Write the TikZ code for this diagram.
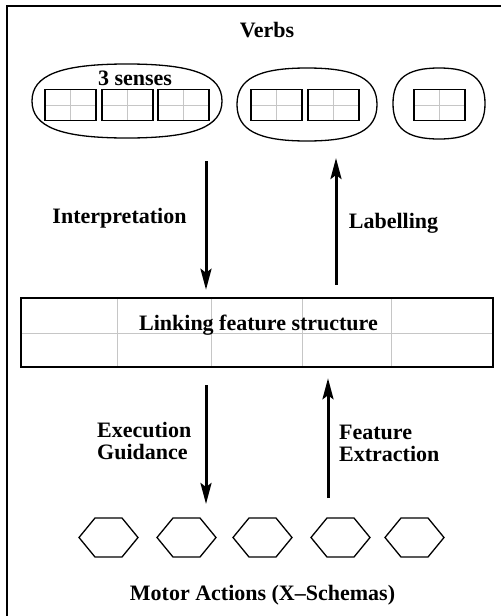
\documentclass[tikz,border=0pt]{standalone}
\usepackage{fontspec}
\setmainfont{Liberation Serif}
\usetikzlibrary{shapes.geometric,arrows.meta}
\begin{document}
\begin{tikzpicture}[x=1pt,y=-1pt,
  lbl/.style={font=\fontsize{22}{22}\selectfont\bfseries, inner sep=0pt},
  ovalbox/.style={inner sep=0pt},
  ovalline/.style={line width=1.3pt},
  sense/.style={draw, line width=1.5pt, minimum width=51pt, minimum height=31pt, inner sep=0pt,
    path picture={\draw[gray!45, line width=1pt]
      (path picture bounding box.north) -- (path picture bounding box.south)
      (path picture bounding box.west) -- (path picture bounding box.east);}},
  hexnode/.style={minimum width=63pt, minimum height=43pt, inner sep=0pt,
    path picture={\draw[line width=1.3pt, line join=miter, shift={(path picture bounding box.center)}]
      (-29.5,0) -- (-13.5,-19.5) -- (13.5,-19.5) -- (29.5,0) -- (13.5,19.5) -- (-13.5,19.5) -- cycle;}},
  arr/.style={line width=3pt, -{Stealth[length=21pt, width=11pt, inset=4pt]}},
  gridline/.style={gray!45, line width=1pt}
]
\useasboundingbox (0,0) rectangle (501,616);
% outer frame (right and bottom edges lie outside the picture)
\draw[line width=2.5pt] (7,616) -- (7,6) -- (501,6);

% Verbs
\node[lbl, anchor=base] (verbs) at (267,37) {Verbs};
\foreach \nm/\cx/\cy/\rx/\ry in {e1/127/101/95/37, e2/307/104.5/70/36.5, e3/439/103.5/46/35.5} {
  \node[ovalbox, minimum width=2*\rx pt, minimum height=2*\ry pt] (\nm) at (\cx,\cy) {};
  \pgfmathsetmacro{\kx}{0.70*\rx}
  \pgfmathsetmacro{\ky}{0.70*\ry}
  \draw[ovalline] (\cx+\rx,\cy) .. controls (\cx+\rx,\cy-\ky) and (\cx+\kx,\cy-\ry) .. (\cx,\cy-\ry)
    .. controls (\cx-\kx,\cy-\ry) and (\cx-\rx,\cy-\ky) .. (\cx-\rx,\cy)
    .. controls (\cx-\rx,\cy+\ky) and (\cx-\kx,\cy+\ry) .. (\cx,\cy+\ry)
    .. controls (\cx+\kx,\cy+\ry) and (\cx+\rx,\cy+\ky) .. (\cx+\rx,\cy) -- cycle;
}
\node[lbl, anchor=base] (senses) at (135,85) {3 senses};
\node[sense] (s11) at (70.5,105) {};
\node[sense] (s12) at (127.5,105) {};
\node[sense] (s13) at (183.5,105) {};
\node[sense] (s21) at (276.5,105) {};
\node[sense] (s22) at (333.5,105) {};
\node[sense] (s31) at (439.5,105) {};

% Linking feature structure
\node[draw, line width=1.5pt, minimum width=472pt, minimum height=69pt, inner sep=0pt] (lfs) at (257,332.5) {};
\foreach \gx in {117,211,302,391} {
  \draw[gridline] (\gx,298.75) -- (\gx,366.25);
}
\draw[gridline] (21.75,333) -- (492.25,333);
\node[lbl, anchor=base] (lfstext) at (258.5,330) {Linking feature structure};

% Motor actions
\foreach \i/\hx in {1/108.5,2/186.5,3/262.5,4/340.5,5/414.5} {
  \node[hexnode] (h\i) at (\hx,537.5) {};
}
\node[lbl, anchor=base] (motor) at (262.5,600) {Motor Actions (X–Schemas)};

% connectors
\coordinate (interpS) at (206,161);
\coordinate (labT) at (336,158);
\coordinate (exeH) at (206,504);
\coordinate (featT) at (328,498);
\draw[arr, shorten >=7.5pt] (interpS) -- (interpS |- lfs.north);
\draw[arr, shorten <=12.5pt] (labT |- lfs.north) -- (labT);
\draw[arr, shorten <=17.5pt] (exeH |- lfs.south) -- (exeH);
\draw[arr, shorten >=10.5pt] (featT) -- (featT |- lfs.south);

% labels
\node[lbl, anchor=base] (interp) at (119.5,223) {Interpretation};
\node[lbl, anchor=base] (labl) at (393.5,228) {Labelling};
\node[lbl, anchor=west, align=left] (exec) at (97,440.5) {Execution\\Guidance};
\node[lbl, anchor=west, align=left] (feat) at (339,443.5) {Feature\\Extraction};
\end{tikzpicture}
\end{document}
